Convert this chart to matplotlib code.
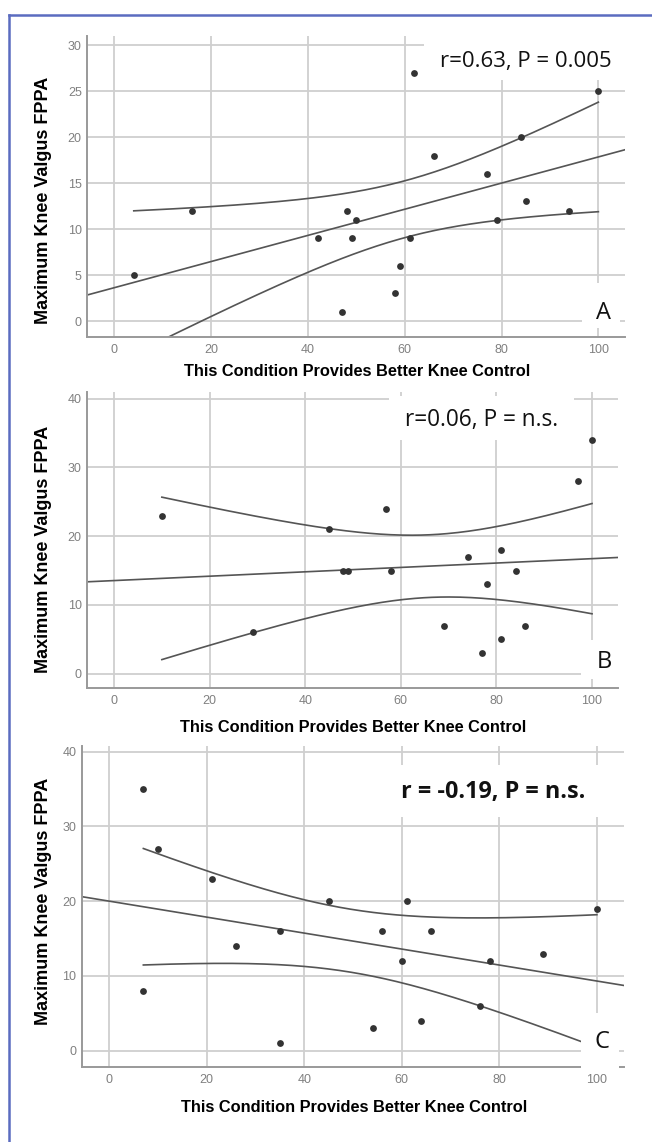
import numpy as np
import matplotlib
matplotlib.use("Agg")
import matplotlib.pyplot as plt
from matplotlib.patches import Rectangle
from matplotlib.lines import Line2D

# data
a_x = [4, 16, 62, 100, 84, 66, 77, 48, 50, 42, 49, 61, 59, 58, 47, 85, 79, 94]
a_y = [5, 12, 27, 25, 20, 18, 16, 12, 11, 9, 9, 9, 6, 3, 1, 13, 11, 12]

b_x = [10, 29, 45, 48, 49, 57, 58, 69, 74, 77, 78, 81, 81, 84, 86, 97, 100]
b_y = [23, 6, 21, 15, 15, 24, 15, 7, 17, 3, 13, 18, 5, 15, 7, 28, 34]

c_x = [7, 7, 10, 21, 26, 35, 35, 45, 54, 56, 60, 61, 64, 66, 76, 78, 89, 100]
c_y = [35, 8, 27, 23, 14, 16, 1, 20, 3, 16, 12, 20, 4, 16, 6, 12, 13, 19]

stats_text = ["r=0.63, P = 0.005", "r=0.06, P = n.s.", "r = -0.19, P = n.s."]
panel_letters = ["A", "B", "C"]
x_ticks = [0, 20, 40, 60, 80, 100]
y_ticks = [[0, 5, 10, 15, 20, 25, 30], [0, 10, 20, 30, 40], [0, 10, 20, 30, 40]]
y_limits = [(-1.74, 31.0), (-2.12, 40.96), (-2.14, 40.76)]

XLABEL = "This Condition Provides Better Knee Control"
YLABEL = "Maximum Knee Valgus FPPA"

# two-sided 95% t critical values by degrees of freedom
T_CRIT = {15: 2.131, 16: 2.120}

W, H = 652, 1142

# layout in pixels: axes (left, top, right, bottom)
axes_px = [(87.3, 36, 625, 337), (87.3, 392, 618.3, 688.3), (81.9, 746, 623.7, 1066.7)]
stats_pos = [(440, 61), (405, 420), (401, 792)]
stats_size = [16, 16.3, 16.8]
letter_pos = [(604, 313), (604, 662), (602, 1042)]
xlabel_pos = [(357, 372), (353, 727), (354, 1108)]
ylabel_pos = [(44, 200), (44, 549), (44, 901)]
# white boxes hiding grid behind the annotations (axes fractions x0, y0, x1, y1)
text_boxes = [(0.626, 0.854, 1.01, 1.01), (0.568, 0.837, 0.917, 0.985), (0.569, 0.779, 0.965, 0.941)]
letter_boxes = [(0.92, 0.03, 0.99, 0.179), (0.93, 0.03, 1.01, 0.163), (0.922, -0.02, 0.992, 0.167)]

GRID = "#cfcfcf"
LINE = "#555555"
DOT = "#333333"
TICK = "#808080"


def fit_band(x, y):
    x = np.asarray(x, float)
    y = np.asarray(y, float)
    n = len(x)
    slope, inter = np.polyfit(x, y, 1)
    resid = y - (slope * x + inter)
    s = np.sqrt(np.sum(resid ** 2) / (n - 2))
    sxx = np.sum((x - x.mean()) ** 2)
    t = T_CRIT[n - 2]
    gx = np.linspace(x.min(), x.max(), 200)
    se = s * np.sqrt(1.0 / n + (gx - x.mean()) ** 2 / sxx)
    yh = slope * gx + inter
    return slope, inter, gx, yh - t * se, yh + t * se


fig = plt.figure(figsize=(W / 100, H / 100), dpi=100)

panels = [(a_x, a_y), (b_x, b_y), (c_x, c_y)]
for i, (xs, ys) in enumerate(panels):
    l, t, r, b = axes_px[i]
    ax = fig.add_axes([l / W, 1 - b / H, (r - l) / W, (b - t) / H])
    ax.set_xlim(-5.6, 105.5)
    ax.set_ylim(*y_limits[i])
    ax.set_xticks(x_ticks)
    ax.set_yticks(y_ticks[i])
    ax.tick_params(length=0, labelsize=9, labelcolor=TICK, pad=4)
    for lab in ax.get_xticklabels() + ax.get_yticklabels():
        lab.set_family("Liberation Sans")
    ax.tick_params(axis="x", pad=5)
    ax.set_axisbelow(True)
    ax.grid(True, color=GRID, lw=1.3)
    for side in ["top", "right"]:
        ax.spines[side].set_visible(False)
    for side in ["left", "bottom"]:
        ax.spines[side].set_color("#999999")
        ax.spines[side].set_linewidth(1.4)

    slope, inter, gx, lo, hi = fit_band(xs, ys)
    lx = np.array(ax.get_xlim())
    ax.plot(lx, slope * lx + inter, color=LINE, lw=1.2, zorder=2)
    ax.plot(gx, lo, color=LINE, lw=1.2, zorder=2)
    ax.plot(gx, hi, color=LINE, lw=1.2, zorder=2)
    ax.scatter(xs, ys, s=24, color=DOT, zorder=4, linewidths=0, clip_on=False)

    for bx in (text_boxes[i], letter_boxes[i]):
        x0, y0, x1, y1 = bx
        ax.add_patch(Rectangle((x0, y0), x1 - x0, y1 - y0, transform=ax.transAxes,
                               facecolor="white", edgecolor="none", zorder=3, clip_on=False))

    sx, sy = stats_pos[i]
    fig.text(sx / W, 1 - sy / H, stats_text[i], ha="left", va="center",
             fontsize=stats_size[i], family="Open Sans",
             weight="bold" if i == 2 else "normal", color="#111111", zorder=5)
    lx_, ly_ = letter_pos[i]
    fig.text(lx_ / W, 1 - ly_ / H, panel_letters[i], ha="center", va="center",
             fontsize=17, family="Open Sans", color="#111111", zorder=5)
    xx, xy = xlabel_pos[i]
    fig.text(xx / W, 1 - xy / H, XLABEL, ha="center", va="center",
             fontsize=11.8, family="Liberation Sans", weight="bold", color="black")
    yx, yy = ylabel_pos[i]
    fig.text(yx / W, 1 - yy / H, YLABEL, ha="center", va="center", rotation=90,
             fontsize=13, family="Liberation Sans", weight="bold", color="black")

# blue frame along top and left
frame = "#5b6cc0"
fig.add_artist(Line2D([8.5 / W, 1], [1 - 15 / H, 1 - 15 / H], color=frame, lw=1.8))
fig.add_artist(Line2D([8.5 / W, 8.5 / W], [0, 1 - 15 / H], color=frame, lw=1.8))

fig.savefig("out.png", dpi=100)
